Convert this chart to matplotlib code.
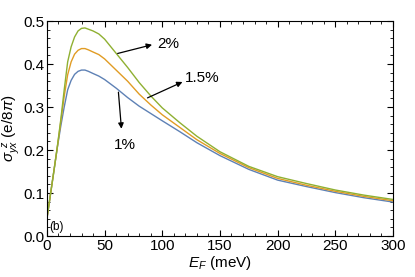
import matplotlib
matplotlib.use('Agg')
import matplotlib.pyplot as plt
from matplotlib.ticker import MultipleLocator

plt.rcParams['font.family'] = ['Liberation Sans', 'DejaVu Sans']
plt.rcParams['mathtext.fontset'] = 'custom'
plt.rcParams['mathtext.rm'] = 'Liberation Sans'
plt.rcParams['mathtext.it'] = 'Liberation Sans:italic'

# Fermi energy (meV)
ef = [0, 3, 6, 9, 12, 15, 18, 21, 24, 27, 30, 33, 36, 40, 45, 50, 60, 70, 80, 90,
      100, 115, 130, 150, 175, 200, 225, 250, 275, 300]
# spin Hall conductivity for three strain values
s_1 = [0.040, 0.095, 0.150, 0.205, 0.255, 0.300, 0.340, 0.362, 0.376, 0.383, 0.386, 0.386,
       0.383, 0.378, 0.372, 0.364, 0.344, 0.322, 0.302, 0.285, 0.268, 0.243, 0.217, 0.187,
       0.155, 0.130, 0.115, 0.101, 0.089, 0.079]
s_15 = [0.040, 0.095, 0.150, 0.206, 0.265, 0.325, 0.375, 0.405, 0.423, 0.432, 0.436, 0.436,
        0.433, 0.428, 0.422, 0.412, 0.386, 0.360, 0.330, 0.305, 0.282, 0.253, 0.224, 0.192,
        0.159, 0.134, 0.118, 0.104, 0.092, 0.082]
s_2 = [0.040, 0.095, 0.150, 0.207, 0.270, 0.340, 0.405, 0.440, 0.463, 0.477, 0.483, 0.484,
       0.481, 0.477, 0.470, 0.458, 0.425, 0.392, 0.357, 0.326, 0.298, 0.264, 0.232, 0.196,
       0.162, 0.138, 0.122, 0.107, 0.095, 0.085]
xticks = [0, 50, 100, 150, 200, 250, 300]
yticks = [0.0, 0.1, 0.2, 0.3, 0.4, 0.5]

fig = plt.figure(figsize=(4.15, 2.77), dpi=100)
ax = fig.add_axes([0.113, 0.148, 0.834, 0.776])

ax.plot(ef, s_1, color='#5E81B5', lw=1.0)
ax.plot(ef, s_15, color='#E19C24', lw=1.0)
ax.plot(ef, s_2, color='#8FB032', lw=1.0)

ax.set_xticks(xticks)
ax.set_xticklabels([str(t) for t in xticks])
ax.set_yticks(yticks)
ax.set_yticklabels(['%.1f' % t for t in yticks])
ax.xaxis.set_minor_locator(MultipleLocator(10))
ax.yaxis.set_minor_locator(MultipleLocator(0.02))
ax.set_xlim(0, 300)
ax.set_ylim(0, 0.5)
ax.tick_params(which='both', direction='in', top=True, right=True, labelsize=11, pad=2)
ax.tick_params(which='major', length=4, width=0.8)
ax.tick_params(which='minor', length=2, width=0.6)

ax.set_xlabel(r'$E_F$ (meV)', fontsize=11, labelpad=1)
ax.set_ylabel(r'$\sigma_{yx}^{\;\;z}$ (e/8$\pi$)', fontsize=11, labelpad=1)

arr = dict(arrowstyle='-|>', color='black', lw=0.9, mutation_scale=8)
ax.annotate('', xy=(93.5, 0.4465), xytext=(59, 0.423), arrowprops=arr)
ax.text(96, 0.4465, '2%', fontsize=11, va='center', ha='left')
ax.annotate('', xy=(119.7, 0.361), xytext=(85, 0.3186), arrowprops=arr)
ax.text(120, 0.367, '1.5%', fontsize=11, va='center', ha='left')
ax.annotate('', xy=(64.8, 0.243), xytext=(61.8, 0.341), arrowprops=arr)
ax.text(67.5, 0.211, '1%', fontsize=11, va='center', ha='center')

ax.text(2, 0.02, '(b)', fontsize=8.5, va='center', ha='left')

fig.savefig('out.png', dpi=100)
